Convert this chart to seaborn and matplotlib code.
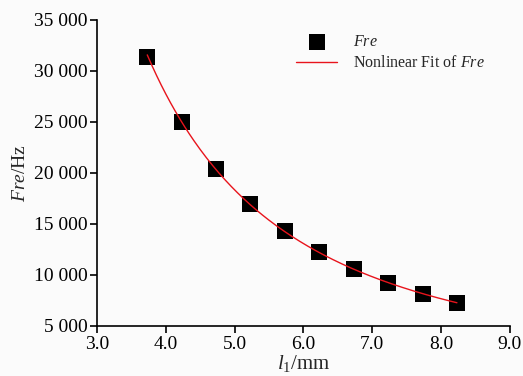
import numpy as np
import pandas as pd
import matplotlib
matplotlib.use("Agg")
import matplotlib.pyplot as plt
import seaborn as sns
from matplotlib.ticker import FuncFormatter

# Data
l1 = [3.73, 4.23, 4.73, 5.23, 5.73, 6.23, 6.73, 7.23, 7.73, 8.23]
fre = [31370, 24990, 20360, 16930, 14310, 12255, 10560, 9255, 8176, 7225]
x_ticks = [3.0, 4.0, 5.0, 6.0, 7.0, 8.0, 9.0]
y_ticks = [5000, 10000, 15000, 20000, 25000, 30000, 35000]

sns.set_style("ticks")
plt.rcParams['font.family'] = ['Liberation Serif', 'DejaVu Serif']
plt.rcParams['mathtext.fontset'] = 'custom'
plt.rcParams['mathtext.rm'] = 'Liberation Serif'
plt.rcParams['mathtext.it'] = 'Liberation Serif:italic'

df = pd.DataFrame({"l1": l1, "fre": fre})

# Nonlinear (power-law) fit computed from the data
b, loga = np.polyfit(np.log(df.l1), np.log(df.fre), 1)
xf = np.linspace(min(l1), max(l1), 200)
fit = pd.DataFrame({"x": xf, "y": np.exp(loga) * xf ** b})

fig = plt.figure(figsize=(5.23, 3.76), dpi=100)
fig.patch.set_facecolor('#fbfbfb')
ax = fig.add_axes([0.1855, 0.133, 0.7895, 0.814])
ax.set_facecolor('#fbfbfb')

sns.scatterplot(data=df, x="l1", y="fre", marker='s', s=135, color='black',
                edgecolor='black', linewidth=0, ax=ax, label=r'$\mathit{Fre}$', zorder=2)
sns.lineplot(data=fit, x="x", y="y", color='#e8141c', linewidth=1.0, ax=ax,
             label=r'Nonlinear Fit of $\mathit{Fre}$', zorder=3)

ax.set_xlim(3.0, 9.0)
ax.set_ylim(5000, 35000)
ax.set_xticks(x_ticks)
ax.set_yticks(y_ticks)
ax.xaxis.set_major_formatter(FuncFormatter(lambda v, p: f"{v:.1f}"))
ax.yaxis.set_major_formatter(FuncFormatter(lambda v, p: f"{int(v):,}".replace(",", " ")))
ax.tick_params(direction='out', length=5, width=1.2, labelsize=14, colors='black', pad=2)

for s in ['top', 'right']:
    ax.spines[s].set_visible(False)
for s in ['left', 'bottom']:
    ax.spines[s].set_linewidth(1.2)
    ax.spines[s].set_color('black')

ax.set_xlabel(r'$\mathit{l}_1$/mm', fontsize=15, labelpad=0)
ax.set_ylabel(r'$\mathit{Fre}$/Hz', fontsize=14, labelpad=3)

ax.legend(loc='upper right', bbox_to_anchor=(0.975, 1.0), frameon=False, fontsize=11.5,
          handlelength=2.6, handletextpad=1.0, labelspacing=0.3)

fig.savefig("out.png", dpi=100, facecolor=fig.get_facecolor())
